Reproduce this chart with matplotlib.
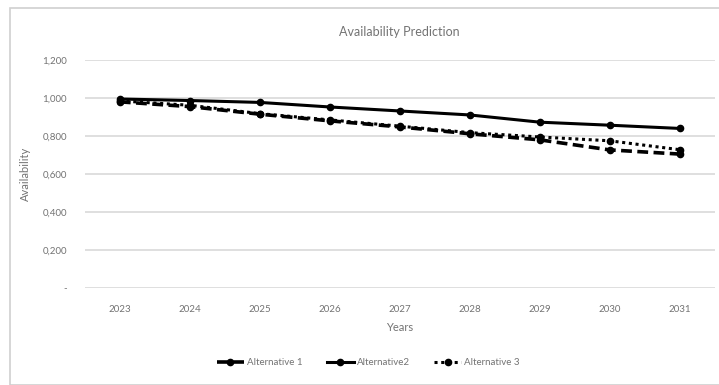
import matplotlib.pyplot as plt
import numpy as np
from matplotlib.patches import Rectangle
from matplotlib.ticker import FuncFormatter

years = ["2023", "2024", "2025", "2026", "2027", "2028", "2029", "2030", "2031"]
alt1 = [0.980, 0.955, 0.915, 0.880, 0.848, 0.812, 0.780, 0.727, 0.705]
alt2 = [0.995, 0.987, 0.977, 0.953, 0.932, 0.911, 0.873, 0.857, 0.840]
alt3 = [0.985, 0.962, 0.918, 0.885, 0.852, 0.818, 0.795, 0.775, 0.728]
yticks = [0.0, 0.2, 0.4, 0.6, 0.8, 1.0, 1.2]

plt.rcParams['font.family'] = ['Lato', 'DejaVu Sans']
grey = "#737373"

fig = plt.figure(figsize=(7.19, 3.85), dpi=100)
fig.patches.append(Rectangle((0.014, 0.0), 0.99, 0.978, transform=fig.transFigure,
                             fill=False, edgecolor="#d0d0d0", linewidth=1.2))
ax = fig.add_axes([0.118, 0.252, 0.876, 0.592])

x = np.arange(len(years))
ax.plot(x, alt1, color="black", lw=2.6, ls=(0, (3, 1.5)), marker="o", ms=4.5, label="Alternative 1")
ax.plot(x, alt2, color="black", lw=2.2, ls="-", marker="o", ms=4.5, label="Alternative2")
ax.plot(x, alt3, color="black", lw=2.2, ls=(0, (1, 1.2)), marker="o", ms=4.5, label="Alternative 3")

ax.set_xlim(-0.5, len(years) - 0.5)
ax.set_ylim(0, 1.2)
ax.set_xticks(x)
ax.set_xticklabels(years)
ax.set_yticks(yticks)
ax.yaxis.set_major_formatter(FuncFormatter(lambda v, p: "-" if v == 0 else f"{v:.3f}".replace(".", ",")))
ax.grid(axis="y", color="#d9d9d9", lw=1.2)
ax.set_axisbelow(True)
for s in ax.spines.values():
    s.set_visible(False)
ax.tick_params(length=0, colors=grey, labelsize=7, pad=12)
ax.tick_params(axis="y", pad=13)

ax.set_title("Availability Prediction", fontsize=9, color=grey, pad=17)
ax.set_xlabel("Years", fontsize=8, color=grey, labelpad=6)
ax.set_ylabel("Availability", fontsize=8, color=grey, labelpad=8)

ax.legend(loc="upper center", bbox_to_anchor=(0.45, -0.27), ncol=3, frameon=False,
          fontsize=7, labelcolor=grey, handlelength=2.8, columnspacing=2.5, handletextpad=0.3)

fig.savefig("out.png", dpi=100)
